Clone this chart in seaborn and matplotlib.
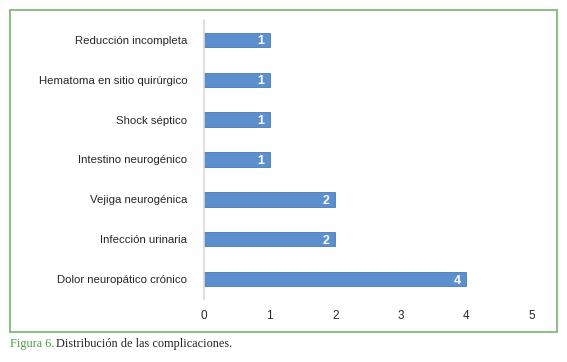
import numpy as np
import pandas as pd
import matplotlib
matplotlib.use('Agg')
import matplotlib.pyplot as plt
import seaborn as sns
from matplotlib.patches import Rectangle

# complicaciones, de arriba hacia abajo
categorias = ['Reducción incompleta', 'Hematoma en sitio quirúrgico', 'Shock séptico',
              'Intestino neurogénico', 'Vejiga neurogénica', 'Infección urinaria',
              'Dolor neuropático crónico']
casos = [1, 1, 1, 1, 2, 2, 4]
ticks_x = [0, 1, 2, 3, 4, 5]

df = pd.DataFrame({'complicacion': categorias, 'casos': casos})

sns.set_style('white')
plt.rcParams['font.family'] = ['Liberation Sans', 'DejaVu Sans']

fig = plt.figure(figsize=(5.67, 3.62), dpi=100)
ax = fig.add_axes([0.360, 0.174, 0.578, 0.771])

sns.barplot(data=df, x='casos', y='complicacion', order=categorias, orient='h',
            color='#5b8fcd', saturation=1, width=0.36, edgecolor='#4a7ab5',
            linewidth=0.6, ax=ax)

for i, v in enumerate(casos):
    ax.text(v - 0.08, i, str(v), color='white', fontweight='bold', fontsize=9,
            ha='right', va='center_baseline')

ax.set_xlim(0, 5)
ax.set_ylim(6.5, -0.5)
ax.set_xticks(ticks_x)
ax.set_xticklabels([str(t) for t in ticks_x], fontsize=8.5)
ax.tick_params(axis='y', labelsize=8.2, length=0, pad=12)
ax.tick_params(axis='x', length=0, pad=8)
ax.set_xlabel('')
ax.set_ylabel('')
for s in ['top', 'right', 'bottom']:
    ax.spines[s].set_visible(False)
ax.spines['left'].set_color('#d9d9d9')
ax.spines['left'].set_linewidth(1.2)

# marco verde
fig.patches.append(Rectangle((10 / 567, 1 - 332 / 362), 547 / 567, 322 / 362,
                             transform=fig.transFigure, fill=False,
                             edgecolor='#8cc084', linewidth=1.5))

fig.text(10 / 567, 1 - 344 / 362, 'Figura 6.', color='#4f9a4a', fontsize=8.8,
         family=['Liberation Serif', 'DejaVu Serif'], va='center', ha='left')
fig.text(56 / 567, 1 - 344 / 362, 'Distribución de las complicaciones.', color='#222222',
         fontsize=8.8, family=['Liberation Serif', 'DejaVu Serif'], va='center', ha='left')

fig.savefig('out.png', dpi=100)
